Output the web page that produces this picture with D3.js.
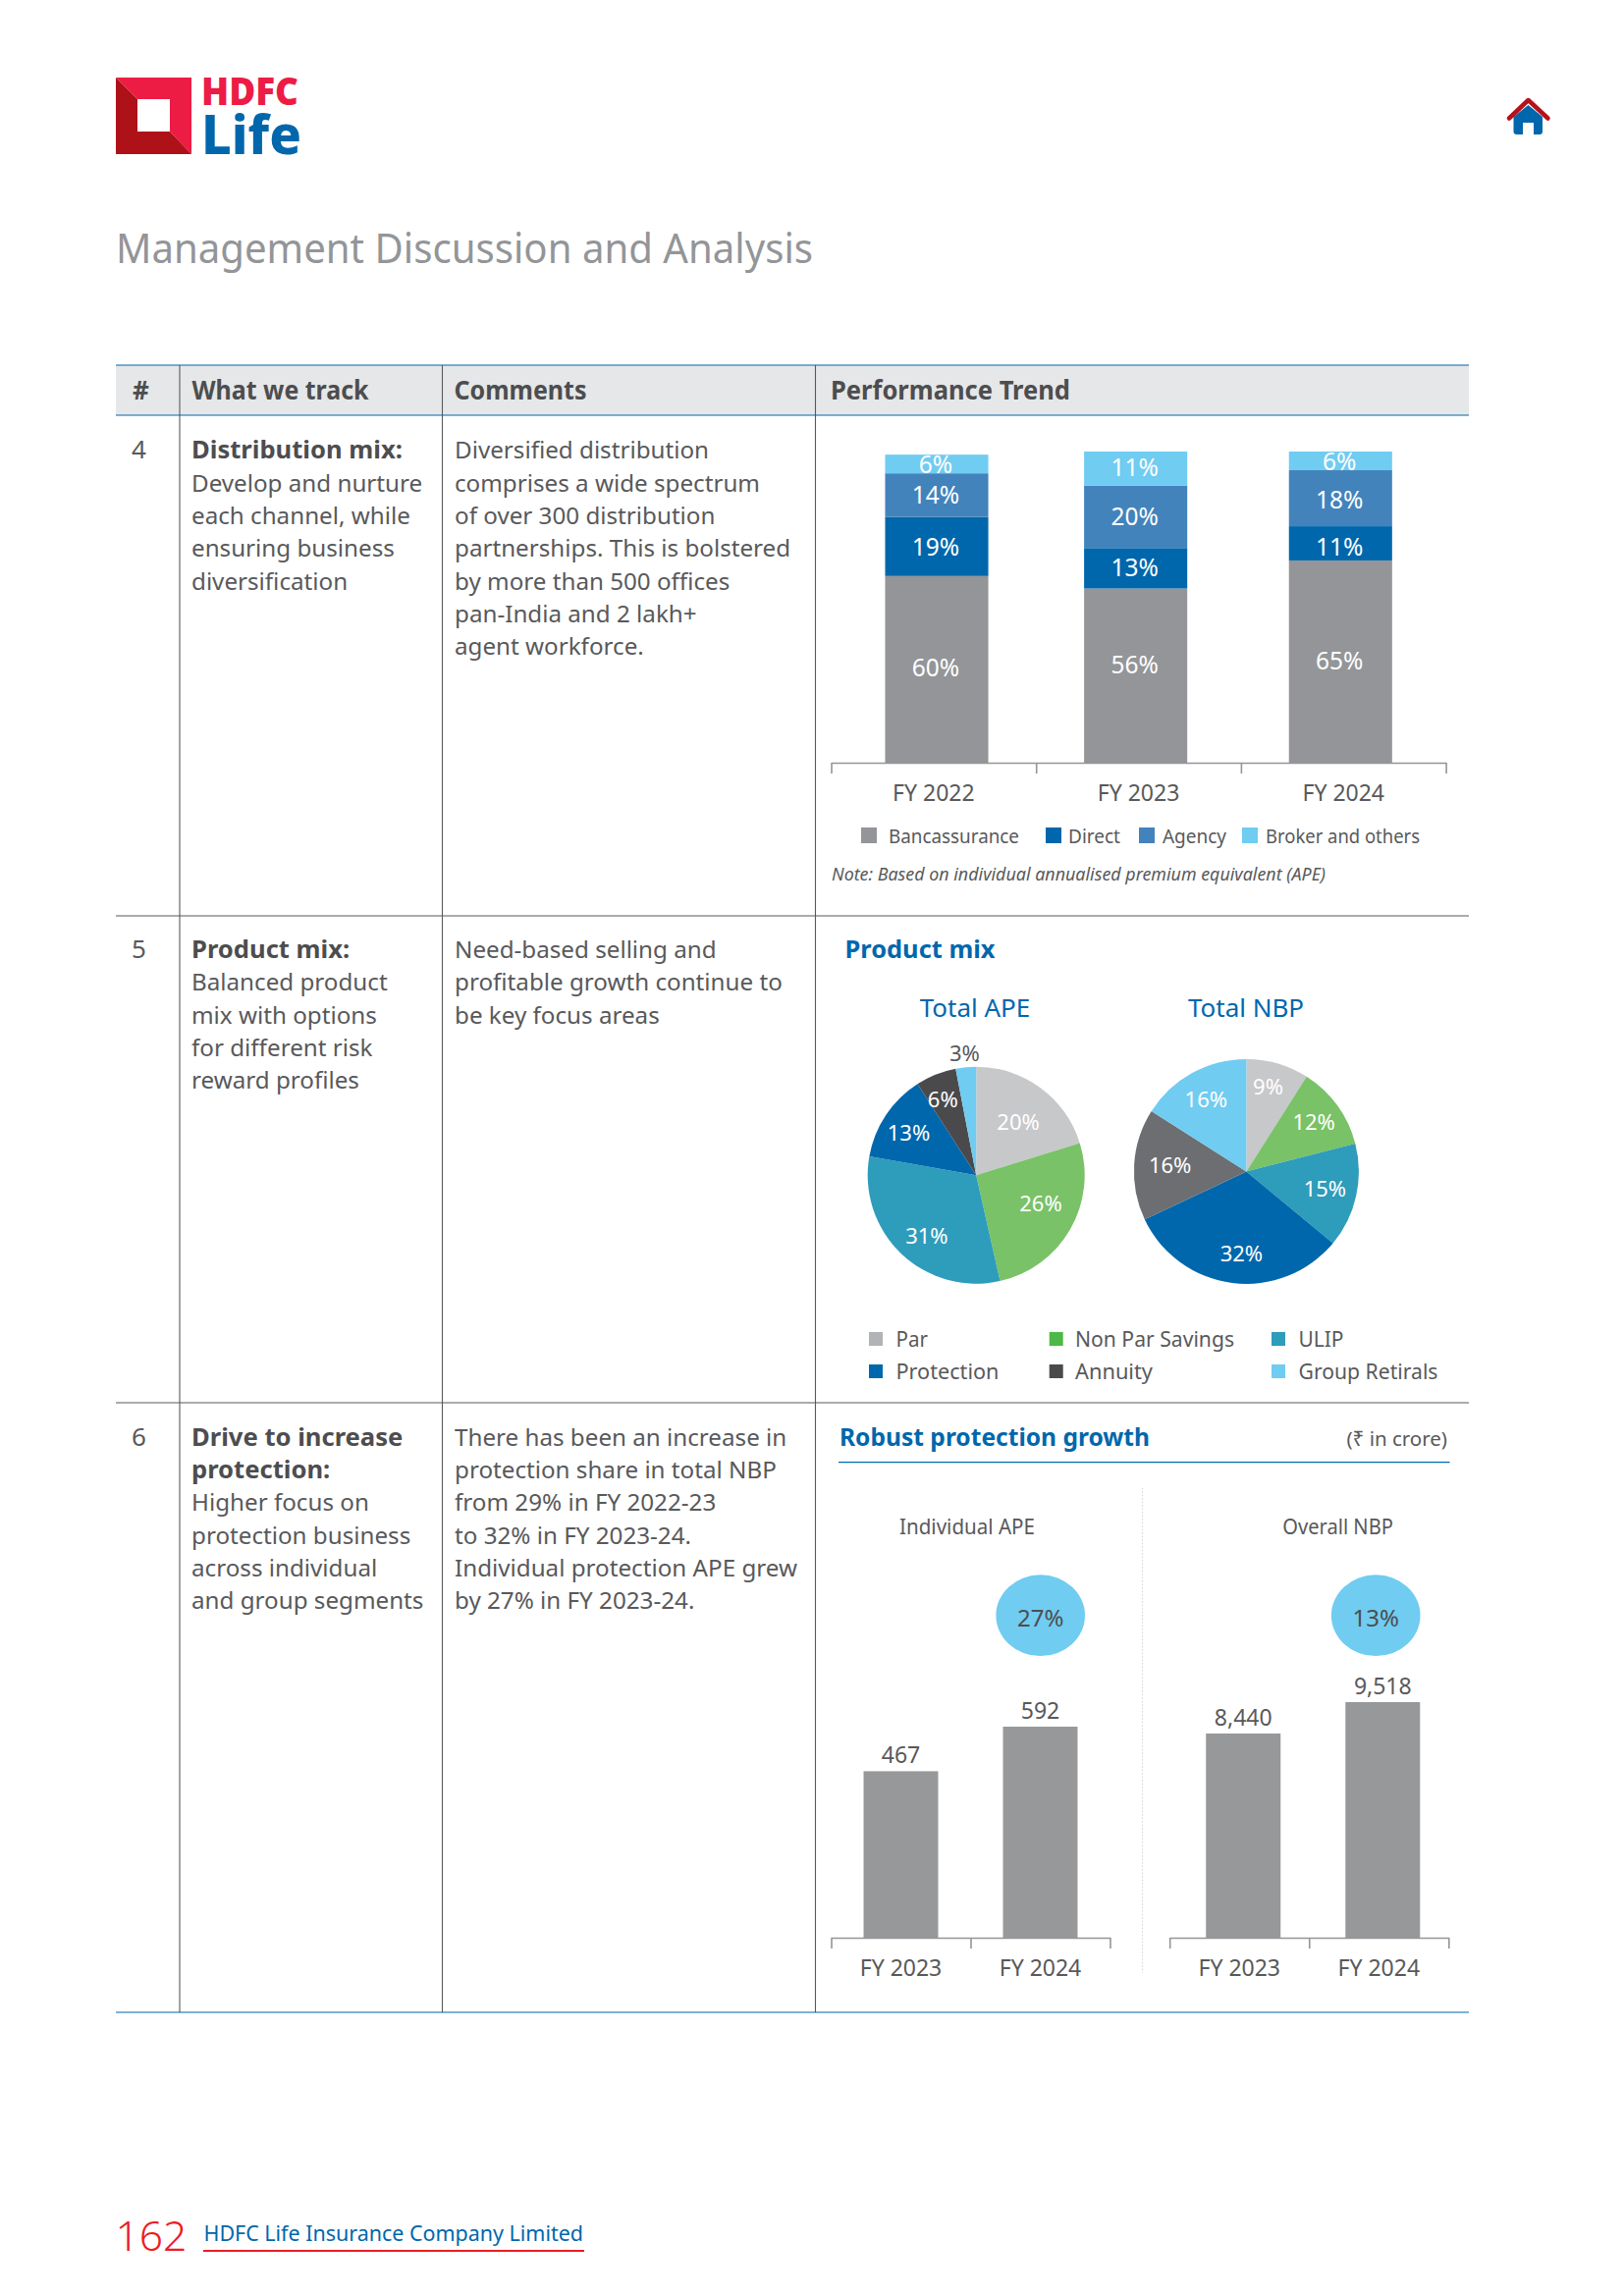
<!DOCTYPE html>
<html><head><meta charset="utf-8">
<script src="https://cdnjs.cloudflare.com/ajax/libs/d3/7.8.5/d3.min.js"></script>
<style>html,body{margin:0;padding:0;background:#fff}svg{display:block}text{font-family:"Noto Sans",sans-serif}</style>
</head><body><svg id="page" width="1654" height="2339" viewBox="0 0 1654 2339"></svg>
<script>
// ---------- data ----------
const fiscalYears = ["FY 2022","FY 2023","FY 2024"];
const channels = ["Bancassurance","Direct","Agency","Broker and others"];
const bancassurance = [60,56,65];
const direct = [19,13,11];
const agency = [14,20,18];
const brokerOthers = [6,11,6];
const productNames = ["Par","Non Par Savings","ULIP","Protection","Annuity","Group Retirals"];
const totalAPE = [20,26,31,13,6,3];
const totalNBP = [9,12,15,32,16,16];
const protectionYears = ["FY 2023","FY 2024"];
const individualAPE = [467,592];
const overallNBP = [8440,9518];
const growthLabels = ["27%","13%"];
const headers = ["#","What we track","Comments","Performance Trend"];
const rowNumbers = ["4","5","6"];
const rowHeads = [["Distribution mix:"],["Product mix:"],["Drive to increase","protection:"]];
const rowTrack = [
 ["Develop and nurture","each channel, while","ensuring business","diversification"],
 ["Balanced product","mix with options","for different risk","reward profiles"],
 ["Higher focus on","protection business","across individual","and group segments"]];
const rowComments = [
 ["Diversified distribution","comprises a wide spectrum","of over 300 distribution","partnerships. This is bolstered","by more than 500 offices","pan-India and 2 lakh+","agent workforce."],
 ["Need-based selling and","profitable growth continue to","be key focus areas"],
 ["There has been an increase in","protection share in total NBP","from 29% in FY 2022-23","to 32% in FY 2023-24.","Individual protection APE grew","by 27% in FY 2023-24."]];

// ---------- style & layout ----------
const BLUE="#0067ac", INK="#58595b", DARK="#4d4d4f";
const channelColors=["#939598","#0067ac","#4383bc","#70ccf1"];
const apeColors=["#c7c8ca","#79c267","#2e9cbb","#0067ac","#4a4a4d","#70ccf1"];
const nbpColors=["#c7c8ca","#79c267","#2e9cbb","#0067ac","#6d6e71","#70ccf1"];
const legendColors=["#b1b3b6","#4db848","#2e9cbb","#0067ac","#4a4a4d","#70ccf1"];
const svg=d3.select("#page");
function T(x,y,s,size,fill,o={}){
  const t=svg.append("text").attr("x",x).attr("y",y).text(s).attr("font-size",size).attr("fill",fill);
  if(o.w) t.attr("textLength",o.w).attr("lengthAdjust","spacingAndGlyphs");
  if(o.weight) t.attr("font-weight",o.weight);
  if(o.anchor) t.attr("text-anchor",o.anchor);
  if(o.italic) t.attr("font-style","italic");
  return t;
}
function L(x1,y1,x2,y2,c,w=1.1){svg.append("line").attr("x1",x1).attr("y1",y1).attr("x2",x2).attr("y2",y2).attr("stroke",c).attr("stroke-width",w);}

// ---------- page furniture ----------
const logoLight=[[118,79],[195,79],[195,157],[173,134],[173,101],[140,101]];
const logoDark=[[118,79],[140,101],[140,134],[173,134],[195,157],[118,157]];
svg.append("polygon").attr("points",logoLight.join(" ")).attr("fill","#ed1c45");
svg.append("polygon").attr("points",logoDark.join(" ")).attr("fill","#ae1218");
T(205,107,"HDFC",39,"#ed1c45",{w:99,weight:900});
T(205,157,"Life",56,BLUE,{w:102,weight:800});
// home icon
svg.append("path").attr("d","M1541.5 119 L1556.5 107 L1571 119 V134 Q1571 137 1568 137 H1562 V125 H1551 V137 H1545 Q1541.5 137 1541.5 134 Z").attr("fill",BLUE);
svg.append("path").attr("d","M1537 120.5 L1556.5 102 L1576.5 120.5").attr("fill","none").attr("stroke","#b5121b").attr("stroke-width",4.5).attr("stroke-linejoin","round").attr("stroke-linecap","round");
T(118,268,"Management Discussion and Analysis",42,"#939598",{w:710,weight:400});

// ---------- table ----------
const tX=[118,183,450.5,830.5,1496], rowY=[372,423,933,1429,2050];
svg.append("rect").attr("x",tX[0]).attr("y",rowY[0]).attr("width",tX[4]-tX[0]).attr("height",rowY[1]-rowY[0]).attr("fill","#e6e7e8");
[1,2,3].forEach(i=>L(tX[i],rowY[0],tX[i],rowY[4],INK));
L(tX[0],rowY[0],tX[4],rowY[0],BLUE);L(tX[0],rowY[1],tX[4],rowY[1],BLUE);
L(tX[0],rowY[2],tX[4],rowY[2],INK);L(tX[0],rowY[3],tX[4],rowY[3],INK);L(tX[0],rowY[4],tX[4],rowY[4],BLUE);
T(143.5,407,headers[0],26,DARK,{weight:700,anchor:"middle"});
T(195.5,407,headers[1],26,DARK,{weight:700,w:180});
T(462.5,407,headers[2],26,DARK,{weight:700,w:135});
T(846,407,headers[3],26,DARK,{weight:700,w:244});
const firstBase=[467.3,976,1472.7], lh=33.3, BODY=24.2, HEAD=25.6;
rowNumbers.forEach((n,i)=>{
  T(141.5,firstBase[i],n,26,INK,{anchor:"middle"});
  let y=firstBase[i];
  rowHeads[i].forEach(s=>{T(195,y,s,HEAD,DARK,{weight:700});y+=lh;});
  rowTrack[i].forEach(s=>{T(195,y,s,BODY,INK);y+=lh;});
  y=firstBase[i];
  rowComments[i].forEach(s=>{T(463,y,s,BODY,INK);y+=lh;});
});

// ---------- stacked bars ----------
const stackRows=fiscalYears.map((f,i)=>({year:f,[channels[0]]:bancassurance[i],[channels[1]]:direct[i],[channels[2]]:agency[i],[channels[3]]:brokerOthers[i]}));
const stacked=d3.stack().keys(channels)(stackRows);
const yS=d3.scaleLinear().domain([0,100]).range([777,460]);
const xAxisBand=d3.scaleBand().domain(fiscalYears).range([846.5,1472.6]);
const xBars=d3.scaleBand().domain(fiscalYears).range([851.2,1468.1]).paddingInner(.489).paddingOuter(.2445);
const barNudge=[0,-3,0];                                  // layout: x offset per column
const stackLabelNudge=[[-1,-11,0],[1,0,4],[0,0,1.5],[.5,-.7,1]]; // layout: y offset of labels
stacked.forEach((ser,k)=>{
  const g=svg.append("g");
  g.selectAll("rect").data(ser).join("rect")
    .attr("x",(d,i)=>xBars(d.data.year)+barNudge[i]).attr("width",xBars.bandwidth())
    .attr("y",d=>yS(d[1])).attr("height",d=>yS(d[0])-yS(d[1])).attr("fill",channelColors[k]);
  g.selectAll("text").data(ser).join("text")
    .attr("x",(d,i)=>xBars(d.data.year)+barNudge[i]+xBars.bandwidth()/2-1).attr("y",(d,i)=>yS((d[0]+d[1])/2)+8.5+stackLabelNudge[k][i])
    .attr("text-anchor","middle").attr("font-size",24.5).attr("fill","#fff")
    .text(d=>(d[1]-d[0])+"%");
});
function bandAxis(x0,x1,y,domain,labelBand){
  const n=domain.length, edge=d3.scaleLinear().domain([0,n]).range([x0,x1]);
  const a=svg.append("g").attr("transform",`translate(0,${y})`)
    .call(d3.axisBottom(edge).tickValues(d3.range(n+1)).tickSize(11).tickSizeOuter(0).tickFormat(""));
  a.selectAll("path,line").attr("stroke","#939598").attr("stroke-width",1.6);
  const b=svg.append("g").attr("transform",`translate(0,${y})`)
    .call(d3.axisBottom(labelBand).tickSize(0).tickPadding(23));
  b.select(".domain").remove();
  b.selectAll("text").attr("font-size",23).attr("fill",INK).attr("font-family","'Noto Sans',sans-serif");
}
bandAxis(846.5,1472.6,777,fiscalYears,xAxisBand);
const stackLegendX=[[877,905],[1065,1088],[1160,1184],[1265,1289]], stackLegendW=[133,53,65,157];
channels.forEach((c,i)=>{
  svg.append("rect").attr("x",stackLegendX[i][0]).attr("y",843).attr("width",16).attr("height",16).attr("fill",channelColors[i]);
  T(stackLegendX[i][1],858.5,c,20.5,INK,{w:stackLegendW[i]});
});
T(847,897,"Note: Based on individual annualised premium equivalent (APE)",17.5,INK,{italic:true,w:503});

// ---------- pies ----------
T(860.5,976,"Product mix",25.6,BLUE,{weight:700,w:153});
T(993,1036,"Total APE",26,BLUE,{anchor:"middle"});
T(1269,1036,"Total NBP",26,BLUE,{anchor:"middle"});
const pie=d3.pie().sort(null).value(d=>d);
function drawPie(vals,cols,cx,cy,r,labelR,labelTurn,outsideIdx){
  const g=svg.append("g").attr("transform",`translate(${cx},${cy})`);
  const arcs=pie(vals);
  g.selectAll("path").data(arcs).join("path").attr("d",d3.arc().innerRadius(0).outerRadius(r)).attr("fill",(d,i)=>cols[i]);
  g.selectAll("text").data(arcs).join("text")
    .attr("transform",(d,i)=>{
      const a=(d.startAngle+d.endAngle)/2+labelTurn[i]*Math.PI/180;
      return `translate(${labelR[i]*Math.sin(a)},${-labelR[i]*Math.cos(a)+7.5})`;})
    .attr("text-anchor","middle").attr("font-size",22).attr("fill",(d,i)=>i===outsideIdx?INK:"#fff").text(d=>d.data+"%");
}
drawPie(totalAPE,apeColors,994.2,1197.2,110.5,[69,72,80,81,84,124],[2,-6,-4.7,-1.7,-2,0],5);
drawPie(totalNBP,nbpColors,1269.4,1193.4,114.5,[89,85,82,84,78,84],[-1.8,0,0,-3.8,.8,-.5],-1);
const legX=[[885,912.5],[1068.7,1095],[1295,1322.5]], legY=[1364,1397], legW=[32.5,162,46,105,79,142];
productNames.forEach((n,i)=>{
  const c=i%3,r=Math.floor(i/3);
  svg.append("rect").attr("x",legX[c][0]).attr("y",legY[r]-7).attr("width",14).attr("height",14).attr("fill",legendColors[i]);
  T(legX[c][1],legY[r]+8,n,22.5,INK,{w:legW[i]});
});

// ---------- protection bars ----------
T(855,1472.5,"Robust protection growth",25.6,BLUE,{weight:700,w:316});
T(1474,1473,"(₹ in crore)",20.5,INK,{anchor:"end"});
L(854,1489.6,1476.5,1489.6,BLUE,1.1);
svg.append("line").attr("x1",1163.5).attr("y1",1515.7).attr("x2",1163.5).attr("y2",2010).attr("stroke","#d1d3d4").attr("stroke-width",1).attr("stroke-dasharray","1.5 2");
T(985,1563,"Individual APE",21.5,INK,{anchor:"middle",w:138});
T(1362.6,1563,"Overall NBP",21.5,INK,{anchor:"middle",w:112.6});
function drawBars(vals,x0,x1,shift,y){
  const xLab=d3.scaleBand().domain(protectionYears).range([x0,x1]);
  const xb=d3.scaleBand().domain(protectionYears).range([x0+shift,x1+shift]).paddingInner(.465).paddingOuter(.2325);
  const rows=protectionYears.map((p,i)=>({p,v:vals[i]}));
  const g=svg.append("g");
  g.selectAll("rect").data(rows).join("rect").attr("x",d=>xb(d.p)).attr("width",xb.bandwidth())
    .attr("y",d=>y(d.v)).attr("height",d=>y.range()[0]-y(d.v)).attr("fill","#97989a");
  g.selectAll("text").data(rows).join("text").attr("x",d=>xb(d.p)+xb.bandwidth()/2).attr("y",d=>y(d.v)-8)
    .attr("text-anchor","middle").attr("font-size",23).attr("fill",INK).text(d=>d3.format(",")(d.v));
  bandAxis(x0,x1,1974,protectionYears,xLab);
}
drawBars(individualAPE,846.5,1130.5,0,d3.scaleLinear().domain([0,592]).range([1974,1759]));
drawBars(overallNBP,1191.2,1475.3,4,d3.scaleLinear().domain([1430,9518]).range([1974,1734]));
const bubbles=[[1059.7,1645.7],[1401.2,1645.7]];
growthLabels.forEach((s,i)=>{
  svg.append("ellipse").attr("cx",bubbles[i][0]).attr("cy",bubbles[i][1]).attr("rx",45.3).attr("ry",41.4).attr("fill","#70ccf1");
  T(bubbles[i][0],bubbles[i][1]+11,s,24,DARK,{anchor:"middle"});
});

// ---------- footer ----------
T(117.5,2292.5,"162",42.5,"#ed1c24",{weight:300});
T(207.5,2283,"HDFC Life Insurance Company Limited",22.5,BLUE,{w:386.5});
L(207,2293,595,2293,"#ed1c24",1.8);
</script></body></html>
